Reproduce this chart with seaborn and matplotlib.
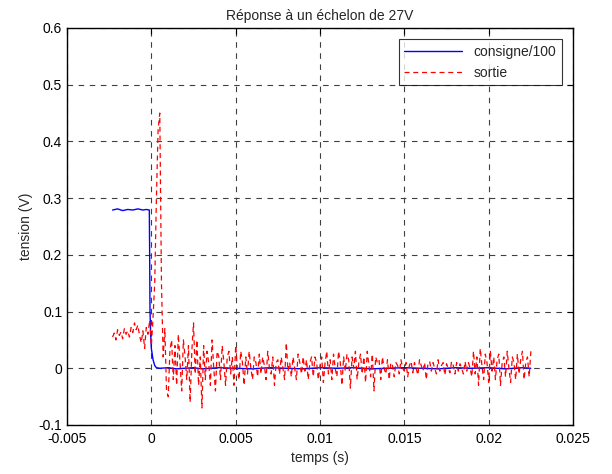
import numpy as np
import pandas as pd
import matplotlib
matplotlib.use("Agg")
import matplotlib.pyplot as plt
import seaborn as sns

# consigne/100 (blue) - sample times and values
temps_consigne = [-0.0023, -0.0020, -0.0017, -0.0014, -0.0011, -0.0008, -0.0005, -0.0003,
                  -0.00012, -0.0001, -0.00008, -0.00004, 0.0, 0.0001, 0.0002, 0.0003,
                  0.0005, 0.001, 0.0015, 0.002, 0.0025, 0.003, 0.0035, 0.004, 0.005,
                  0.006, 0.007, 0.008, 0.009, 0.010, 0.011, 0.012, 0.013, 0.014, 0.015,
                  0.016, 0.017, 0.018, 0.019, 0.020, 0.021, 0.022, 0.0225]
consigne = [0.279, 0.281, 0.278, 0.280, 0.279, 0.281, 0.279, 0.280,
            0.279, 0.20, 0.10, 0.06, 0.035, 0.015, 0.005, 0.001,
            0.0, 0.001, -0.001, 0.0, 0.001, -0.001, 0.0, 0.001, 0.0,
            -0.001, 0.001, 0.0, -0.001, 0.001, 0.0, 0.001, -0.001, 0.0, 0.001,
            0.0, -0.001, 0.001, 0.0, 0.001, -0.001, 0.001, 0.0]

# sortie (red dashed), one sample every 0.1 ms from -2.3 ms to 22.5 ms
sortie = [
    0.055, 0.062, 0.050, 0.068, 0.058, 0.064, 0.052, 0.070, 0.060, 0.066,
    0.055, 0.072, 0.063, 0.080, 0.068, 0.076, 0.058, 0.045, 0.066, 0.035,
    0.072, 0.060,
    0.085, 0.040, 0.090, 0.15, 0.30, 0.42, 0.45,
    0.15, 0.02, 0.07, -0.04, -0.05, 0.03, 0.05, -0.02, 0.04, -0.03,
    0.06, 0.01, -0.04, 0.05, 0.02, -0.02, 0.04, -0.06, 0.03, 0.08,
    -0.01, 0.05, -0.03, 0.02, -0.07,
    0.04, -0.02, 0.03, 0.01, -0.03, 0.05, 0.00, -0.04, 0.03, 0.02,
    -0.02, 0.04, 0.01, -0.03, 0.02, 0.03, -0.01, 0.02, -0.03, 0.04,
    0.00, -0.02, 0.03, 0.01, -0.03,
    0.02, -0.01, 0.03, 0.00, -0.02, 0.02, 0.01, -0.015, 0.025, -0.01,
    0.02, 0.005, -0.02, 0.03, 0.00, -0.01, 0.02, -0.03, 0.01, 0.015,
    -0.01, 0.02, 0.00, -0.02, 0.045, -0.005, 0.01, -0.015, 0.02, 0.00,
    -0.02, 0.025, 0.01, -0.01, 0.02, -0.005, 0.015, -0.02, 0.01, 0.02,
    -0.015, 0.02, 0.01, -0.02, 0.005, 0.02, -0.025, 0.01, 0.03, -0.01,
    0.015, -0.02, 0.025, 0.00, -0.015, 0.03, 0.01, -0.03, 0.02, -0.005,
    0.025, 0.015, -0.035, 0.02, 0.00, 0.03, -0.02, 0.01, 0.025, -0.01,
    0.02, -0.025, 0.03, 0.005, -0.015, 0.025, -0.04, 0.02, 0.01, 0.015,
    -0.02, 0.02, 0.00, -0.01, 0.015, -0.02, 0.01, 0.005, -0.015, 0.01,
    0.005, -0.01, 0.015, 0.00, -0.005, 0.01, -0.015, 0.005, 0.012, -0.008,
    0.01, 0.00, -0.012, 0.015, 0.005, -0.005, 0.01, -0.02, 0.008, 0.012,
    -0.005, 0.01, 0.00, -0.01, 0.015, -0.005, 0.005, 0.01, -0.012, 0.008,
    0.00, -0.008, 0.012, 0.005, -0.01, 0.01, -0.005, 0.008, 0.00, -0.01,
    0.012, -0.005, 0.01, 0.00, -0.015,
    0.03, -0.01, 0.02, -0.03, 0.035, 0.005, -0.02, 0.025, 0.01, -0.025,
    0.03, -0.005, 0.02, -0.02, 0.015, 0.025, -0.03, 0.01, 0.02, -0.015,
    0.03, 0.00, -0.025, 0.02, 0.01, -0.02, 0.025, -0.01, 0.015, 0.03,
    -0.02, 0.01, 0.02, -0.015, 0.03,
]
temps_sortie = np.linspace(-0.0023, 0.0225, len(sortie))

xticks = [-0.005, 0, 0.005, 0.01, 0.015, 0.02, 0.025]
xticklabels = ["-0.005", "0", "0.005", "0.01", "0.015", "0.02", "0.025"]
yticks = [-0.1, 0, 0.1, 0.2, 0.3, 0.4, 0.5, 0.6]
yticklabels = ["-0.1", "0", "0.1", "0.2", "0.3", "0.4", "0.5", "0.6"]

sns.set_style("white")
plt.rcParams['font.family'] = ['Liberation Sans', 'DejaVu Sans']
plt.rcParams['xtick.direction'] = 'in'
plt.rcParams['ytick.direction'] = 'in'

df_c = pd.DataFrame({'t': temps_consigne, 'v': consigne})
df_s = pd.DataFrame({'t': temps_sortie, 'v': sortie})

fig = plt.figure(figsize=(6.12, 4.74), dpi=100)
ax = fig.add_axes([0.1095, 0.1034, 0.8268, 0.8376])

sns.lineplot(data=df_c, x='t', y='v', ax=ax, color='#0000ff', linewidth=1.0,
             label='consigne/100', sort=False, estimator=None)
sns.lineplot(data=df_s, x='t', y='v', ax=ax, color='#ff0000', linewidth=0.9,
             label='sortie', sort=False, estimator=None)
ax.lines[1].set_dashes([4, 3])

ax.set_xlim(-0.005, 0.025)
ax.set_ylim(-0.1, 0.6)
ax.set_xticks(xticks)
ax.set_xticklabels(xticklabels, fontsize=10)
ax.set_yticks(yticks)
ax.set_yticklabels(yticklabels, fontsize=10)
ax.tick_params(axis='x', pad=5)
ax.tick_params(length=4, width=0.8, top=True, right=True, colors='black')
ax.grid(True, color='#404040', linestyle=(0, (5, 5)), linewidth=0.8)
for s in ax.spines.values():
    s.set_color('black')
    s.set_linewidth(1.0)

ax.set_title('Réponse à un échelon de 27V', fontsize=10)
ax.set_xlabel('temps (s)', fontsize=10)
ax.set_ylabel('tension (V)', fontsize=10)

leg = ax.legend(loc='upper right', fontsize=10, frameon=True, fancybox=False,
                handlelength=4.2, borderaxespad=0.8, labelspacing=0.5)
leg.get_frame().set_edgecolor('black')
leg.get_frame().set_linewidth(0.8)
leg.get_lines()[1].set_dashes([4, 3])

fig.savefig('out.png', dpi=100)
